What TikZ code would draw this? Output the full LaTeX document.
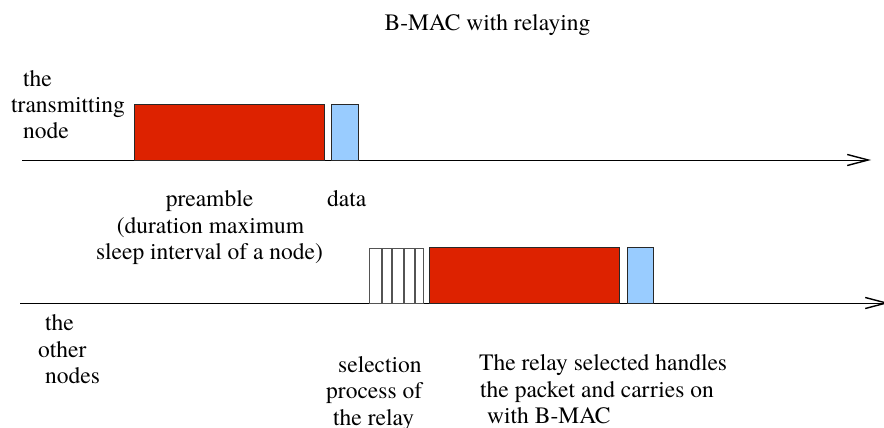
\documentclass[tikz,border=0pt]{standalone}
\usepackage{fontspec}
\setmainfont{TeX Gyre Termes}
\newfontfamily\timesfam{TeX Gyre Termes}
\usetikzlibrary{arrows.meta}
\definecolor{pred}{RGB}{221,34,0}
\definecolor{dblue}{RGB}{153,204,255}
\definecolor{edge}{RGB}{40,40,40}
\begin{document}
\begin{tikzpicture}[x=1pt,y=-1pt,
  lbl/.style={inner sep=0pt,font=\timesfam\fontsize{23.5}{26.5}\selectfont},
  lw/.style={lbl,anchor=base west},
  lc/.style={lbl,anchor=base},
  pbox/.style={draw=edge,line width=1.2pt,fill=pred},
  dbox/.style={draw=edge,line width=1.2pt,fill=dblue},
  sbox/.style={draw=edge!80,line width=1.2pt,fill=white},
  timeline/.style={line width=1pt,-{Straight Barb[length=21pt,width=11pt,line width=1.4pt]}}]
\useasboundingbox (0,0) rectangle (884,428);
\clip (0,0) rectangle (884,428);
% title
\node[lc] (title) at (487.5,31) {B-MAC with relaying};
% top time line
\coordinate (t0) at (22,160);
\coordinate (t1) at (871,160);
\draw[timeline] (t0) -- (t1);
\node[pbox,inner sep=0pt,minimum width=190pt,minimum height=56pt,anchor=north west] (pre) at (134,104) {};
\node[dbox,inner sep=0pt,minimum width=27pt,minimum height=56pt,anchor=north west] (dat) at (331,104) {};
% bottom time line
\coordinate (b0) at (20,303);
\coordinate (b1) at (889,303);
\draw[timeline] (b0) -- (b1);
\node[sbox,inner sep=0pt,minimum width=54pt,minimum height=55pt,anchor=north west] (sel) at (369,248) {};
\foreach \sx in {382,392,404,415}{\draw[draw=edge!80,line width=1.2pt] (\sx,248) -- (\sx,303);}
\node[pbox,inner sep=0pt,minimum width=190pt,minimum height=56pt,anchor=north west] (pre2) at (429,247) {};
\node[dbox,inner sep=0pt,minimum width=26pt,minimum height=56pt,anchor=north west] (dat2) at (627,247) {};
% labels left
\node[lw] (tn1) at (23,86) {the};
\node[lw] (tn2) at (11,112) {transmitting};
\node[lw] (tn3) at (23,138) {node};
\node[lw] (on1) at (45,330) {the};
\node[lw] (on2) at (38,357) {other};
\node[lw] (on3) at (45,383) {nodes};
% preamble label
\node[lc] (pl1) at (209.5,206) {preamble};
\node[lc] (pl2) at (210.5,233) {(duration maximum};
\node[lc] (pl3) at (209.5,259) {sleep interval of a node)};
\node[lw] (dl) at (327,206) {data};
% selection
\node[lw] (sl1) at (338,372) {selection};
\node[lw] (sl2) at (326,398) {process of};
\node[lw] (sl3) at (333,425) {the relay};
% relay
\node[lw] (rl1) at (479,370) {The relay selected handles};
\node[lw] (rl2) at (480,397) {the packet and carries on};
\node[lw] (rl3) at (487,423) {with B-MAC};
\end{tikzpicture}
\end{document}
